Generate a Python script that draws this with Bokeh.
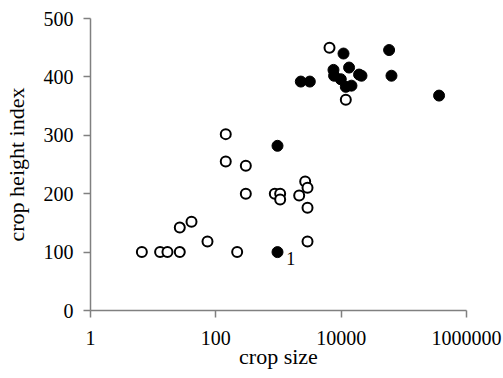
from bokeh.plotting import figure
from bokeh.models import FixedTicker, Range1d
from bokeh.core.properties import value
from bokeh.embed import file_html
from bokeh.resources import INLINE

open_x = [6.6, 12.9, 16.9, 26.6, 26.6, 40.9, 73.6, 219, 144, 144, 301, 301,
          873, 1063, 1063, 2138, 2666, 2904, 2904, 2904, 6516, 11860]
open_y = [100, 100, 100, 100, 142, 152, 118, 100, 302, 255, 248, 200,
          200, 200, 190, 197, 221, 210, 176, 118, 450, 361]

filled_x = [964, 964, 2270, 3160, 10900, 58200, 7540, 13370, 7710, 9860,
            19300, 21100, 11860, 14600, 63500, 365000]
filled_y = [100, 282, 392, 392, 440, 446, 412, 416, 402, 396,
            404, 402, 383, 385, 402, 368]

label_x = [1570]
label_y = [89]
label_text = ["1"]

x_ticks = [1, 100, 10000, 1000000]
x_tick_labels = ["1", "100", "10000", "1000000"]
y_ticks = [0, 100, 200, 300, 400, 500]

FONT = "Liberation Serif"

p = figure(width=503, height=378, x_axis_type="log", output_backend="svg",
           toolbar_location=None, x_range=Range1d(1, 1000000), y_range=Range1d(0, 500),
           min_border_left=90, min_border_right=37, min_border_top=18, min_border_bottom=68)
p.outline_line_color = None
p.xgrid.visible = False
p.ygrid.visible = False

p.scatter(open_x, open_y, size=10, fill_color="white", line_color="black", line_width=2)
p.scatter(filled_x, filled_y, size=11, fill_color="black", line_color="black", line_width=1)
p.text(label_x, label_y, text=label_text, text_font=value(FONT), text_font_size="18px",
       text_align="center", text_baseline="middle", text_color="black")

for ax in (p.xaxis[0], p.yaxis[0]):
    ax.axis_line_color = "#808080"
    ax.axis_line_width = 1.5
    ax.major_tick_line_color = "#808080"
    ax.major_tick_line_width = 1.5
    ax.major_tick_in = 0
    ax.major_tick_out = 7
    ax.minor_tick_line_color = None
    ax.major_label_text_font = FONT
    ax.major_label_text_font_size = "20px"
    ax.major_label_text_color = "black"
    ax.axis_label_text_font = FONT
    ax.axis_label_text_font_size = "22px"
    ax.axis_label_text_font_style = "normal"
    ax.axis_label_text_color = "black"

p.xaxis.ticker = FixedTicker(ticks=x_ticks)
p.xaxis.major_label_overrides = {t: l for t, l in zip(x_ticks, x_tick_labels)}
p.yaxis.ticker = FixedTicker(ticks=y_ticks)
p.xaxis.axis_label = "crop size"
p.yaxis.axis_label = "crop height index"
p.xaxis.major_label_standoff = 13
p.yaxis.major_label_standoff = 10
p.xaxis.axis_label_standoff = -4
p.yaxis.axis_label_standoff = 12

open("out.html", "w").write(file_html(p, INLINE))
